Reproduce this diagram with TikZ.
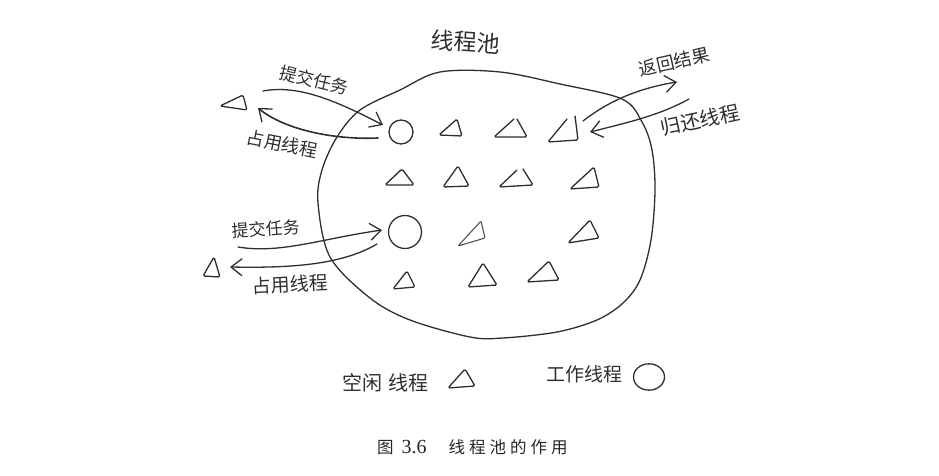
\documentclass[tikz,border=0pt]{standalone}
\usepackage{fontspec}
\usetikzlibrary{arrows.meta}
\newfontfamily\cjk{Noto Sans CJK SC}
\setmainfont{Liberation Serif}
\definecolor{ink}{HTML}{2E2E2E}
\tikzset{
  pen/.style={draw=ink,line width=1.3pt,line join=round,line cap=round},
  tri/.style={pen,rounded corners=1.5pt},
  fine/.style={draw=ink!85,line width=1.05pt,line join=round,line cap=round,rounded corners=1pt},
  flow/.style={pen,-{Straight Barb[length=11pt,width=17pt,line width=1.3pt]}},
  hand/.style={font=\cjk\fontsize{#1}{#1}\selectfont,text=ink,inner sep=0pt},
  hand/.default=17,
  shape ring/.style={circle,pen,minimum size=#1,inner sep=0pt},
  caption/.style={font=\cjk\fontsize{16.5}{16.5}\selectfont,text=black!85,inner sep=0pt}
}
\newcommand{\gp}{\hspace{4pt}}
\begin{document}
\begin{tikzpicture}[x=1pt,y=-1pt]
\useasboundingbox (0,0) rectangle (939,476);

% pool outline
\draw[pen] plot[smooth cycle,tension=0.55] coordinates {
  (440,72) (500,72) (560,84) (622,99) (642,122) (652,150) (655,190) (651,240)
  (640,280) (623,303) (597,320) (557,332) (503,338) (470,337) (410,320) (370,298)
  (330,257) (318,203) (322,170) (337,137) (360,110) (400,90)};

% worker circles
\node[shape ring=24pt] (w1) at (401,132) {};
\node[shape ring=33pt] (w2) at (405,232) {};
\node[shape ring=31pt,yscale=0.85] (legendw) at (649,377) {};

% idle triangles
\draw[tri] (220,106) -- (243,95) -- (247,110) -- cycle;
\draw[tri] (203,276) -- (214,257) -- (220,277) -- cycle;
\draw[tri] (439,135) -- (457,119) -- (462,136) -- cycle;
\draw[tri] (514,119) -- (494,137) -- (527,137) -- (517,119);
\draw[tri] (567,119) -- (548,142) -- (578,140) -- (575,116);
\draw[tri] (385,185) -- (402,169) -- (414,185) -- cycle;
\draw[tri] (443,187) -- (458,166) -- (469,186) -- cycle;
\draw[tri] (517,170) -- (499,187) -- (533,185) -- (523,169);
\draw[tri] (570,189) -- (594,167) -- (599,187) -- cycle;
\draw[fine] (458,246) -- (481,221) -- (485,238) -- cycle;
\draw[tri] (568,243) -- (590,220) -- (599,238) -- cycle;
\draw[tri] (393,289) -- (407,271) -- (415,287) -- cycle;
\draw[tri] (468,287) -- (483,263) -- (497,285) -- cycle;
\draw[tri] (527,282) -- (549,261) -- (559,280) -- cycle;
\draw[tri] (448,388) -- (465,369) -- (475,386) -- cycle;

% connector ends
\coordinate (s1) at (263,91);
\coordinate (s2) at (238,247);
\coordinate (o1) at (258,108);
\coordinate (o2) at (230,267);
\coordinate (r1) at (677,82);
\coordinate (b1) at (689,99);
\coordinate (t4) at (583,121);
\coordinate (t4b) at (590,132);
\coordinate (w1in) at (383,125);
\coordinate (w1out) at (378,138);
\coordinate (w2in) at (382,230);
\coordinate (w2out) at (377,244);

% connectors
\draw[flow] (s1) .. controls (300,84) and (340,103) .. (w1in);
\draw[flow,line width=1.6pt] (w1out) .. controls (335,140) and (285,130) .. (o1);
\draw[flow] (s2) .. controls (280,254) and (320,239) .. (w2in);
\draw[flow] (w2out) .. controls (340,266) and (285,268) .. (o2);
\draw[flow] (t4) .. controls (610,100) and (640,88) .. (r1);
\draw[flow] (b1) .. controls (660,115) and (630,122) .. (t4b);

% handwritten labels
\node[hand=23,rotate=-4] (pool) at (466,42) {线程池};
\node[hand=17.5,rotate=-14] (l1) at (314,80) {提交任务};
\node[hand=18,rotate=-11] (l2) at (282,144) {占用线程};
\node[hand=17,rotate=4] (l3) at (266,229) {提交任务};
\node[hand=19,rotate=3] (l4) at (290,284) {占用线程};
\node[hand=18,rotate=13] (l5) at (674,62) {返回结果};
\node[hand=20,rotate=12] (l6) at (700,120) {归还线程};
\node[hand=20] (l7) at (385,383) {空闲\hspace{6pt}线程};
\node[hand=19] (l8) at (584,374) {工作线程};

% caption
\node[caption,anchor=west] (cap) at (377,447)
  {图\hspace{8pt}{\rmfamily\fontsize{20}{20}\selectfont 3.6}\hspace{22pt}线\gp 程\gp 池\gp 的\gp 作\gp 用};
\end{tikzpicture}
\end{document}
